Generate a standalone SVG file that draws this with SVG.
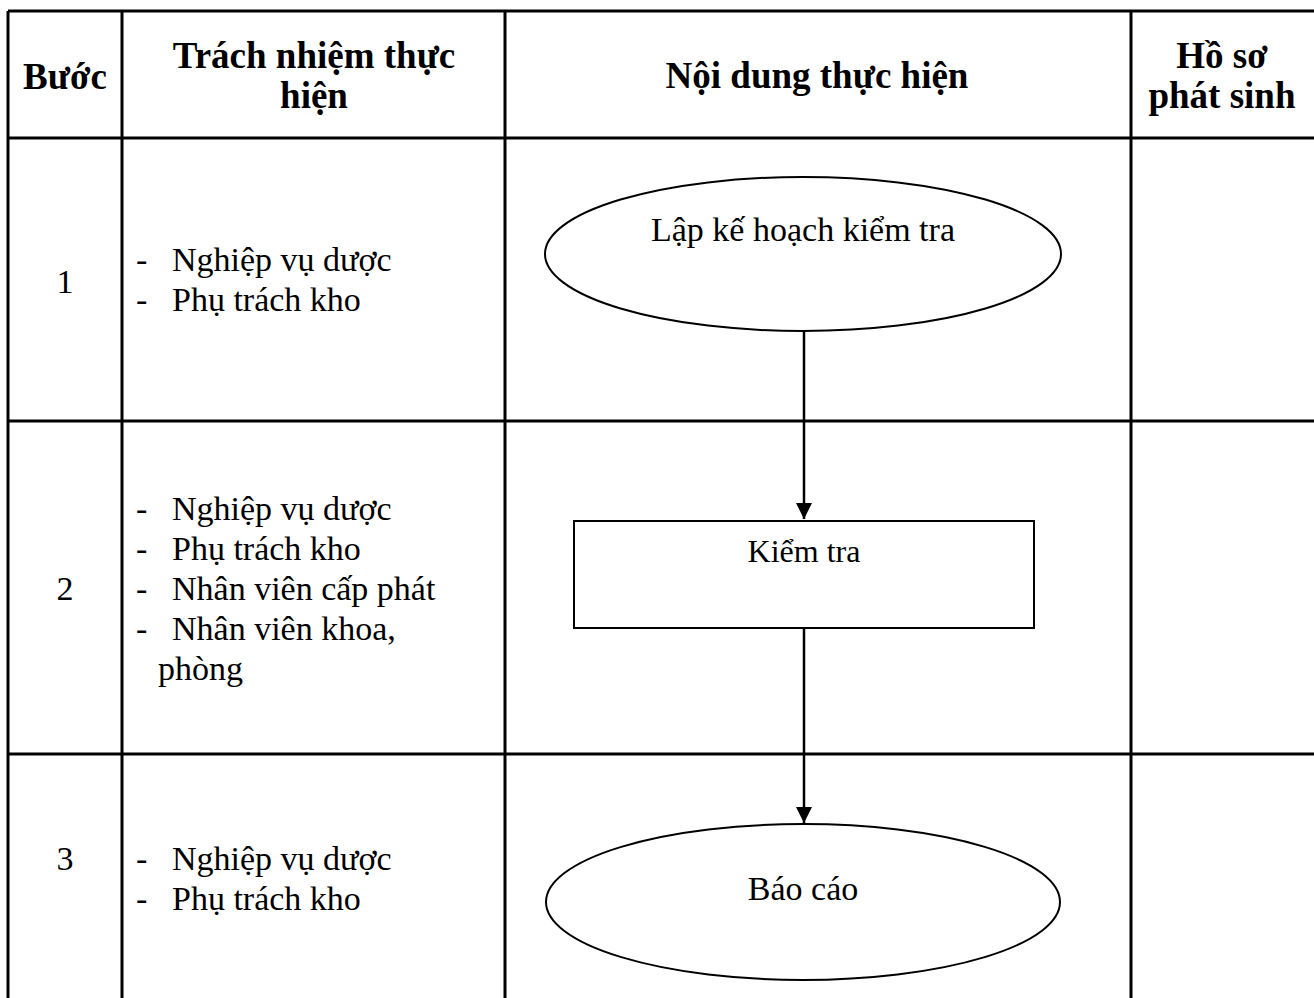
<svg xmlns="http://www.w3.org/2000/svg" width="1314" height="998" viewBox="0 0 1314 998">
  <style>
    .grid { stroke: #000; stroke-width: 3; fill: none; }
    .shape { stroke: #000; stroke-width: 2; fill: #fff; }
    .conn { stroke: #000; stroke-width: 2.5; fill: none; }
    text { font-family: "Liberation Serif", "Times New Roman", serif; fill: #000; }
    .head { font-size: 37px; font-weight: bold; text-anchor: middle; }
    .body { font-size: 34px; }
    .small { font-size: 32px; }
    .mid { text-anchor: middle; }
  </style>
  <defs>
    <marker id="arrow" viewBox="0 0 16 16" refX="16" refY="8" markerWidth="16" markerHeight="16" markerUnits="userSpaceOnUse" orient="auto">
      <path d="M0,0 L16,8 L0,16 Z" fill="#000"/>
    </marker>
  </defs>
  <rect width="1314" height="998" fill="#fff"/>

  <!-- table grid -->
  <g id="table">
    <path class="grid" d="M8,11 V998 M122,11 V998 M505,11 V998 M1131,11 V998"/>
    <path class="grid" d="M8,11 H1314 M8,138 H1314 M8,421 H1314 M8,754 H1314"/>
  </g>

  <!-- header row -->
  <g id="header">
    <text class="head" x="65" y="89">Bước</text>
    <text class="head" x="314" y="68">Trách nhiệm thực</text>
    <text class="head" x="314" y="108">hiện</text>
    <text class="head" x="817" y="88">Nội dung thực hiện</text>
    <text class="head" x="1222" y="68">Hồ sơ</text>
    <text class="head" x="1222" y="108">phát sinh</text>
  </g>

  <!-- step numbers and responsibilities -->
  <g id="row1">
    <text class="body mid" x="65" y="293">1</text>
    <text class="body" x="136" y="271">-</text>
    <text class="body" x="172" y="271">Nghiệp vụ dược</text>
    <text class="body" x="136" y="311">-</text>
    <text class="body" x="172" y="311">Phụ trách kho</text>
  </g>
  <g id="row2">
    <text class="body mid" x="65" y="600">2</text>
    <text class="body" x="136" y="520">-</text>
    <text class="body" x="172" y="520">Nghiệp vụ dược</text>
    <text class="body" x="136" y="560">-</text>
    <text class="body" x="172" y="560">Phụ trách kho</text>
    <text class="body" x="136" y="600">-</text>
    <text class="body" x="172" y="600">Nhân viên cấp phát</text>
    <text class="body" x="136" y="640">-</text>
    <text class="body" x="172" y="640">Nhân viên khoa,</text>
    <text class="body" x="158" y="680">phòng</text>
  </g>
  <g id="row3">
    <text class="body mid" x="65" y="870">3</text>
    <text class="body" x="136" y="870">-</text>
    <text class="body" x="172" y="870">Nghiệp vụ dược</text>
    <text class="body" x="136" y="910">-</text>
    <text class="body" x="172" y="910">Phụ trách kho</text>
  </g>

  <!-- connectors -->
  <g id="connectors">
    <line class="conn" x1="804" y1="331" x2="804" y2="519" marker-end="url(#arrow)"/>
    <line class="conn" x1="804" y1="628" x2="804" y2="823" marker-end="url(#arrow)"/>
  </g>

  <!-- process nodes -->
  <g id="node-plan">
    <ellipse class="shape" cx="803" cy="254" rx="258" ry="77"/>
    <text class="body mid" x="803" y="241">Lập kế hoạch kiểm tra</text>
  </g>
  <g id="node-check">
    <rect class="shape" x="574" y="521" width="460" height="107"/>
    <text class="small mid" x="804" y="562">Kiểm tra</text>
  </g>
  <g id="node-report">
    <ellipse class="shape" cx="803" cy="902" rx="257" ry="78"/>
    <text class="body mid" x="803" y="900">Báo cáo</text>
  </g>
</svg>
